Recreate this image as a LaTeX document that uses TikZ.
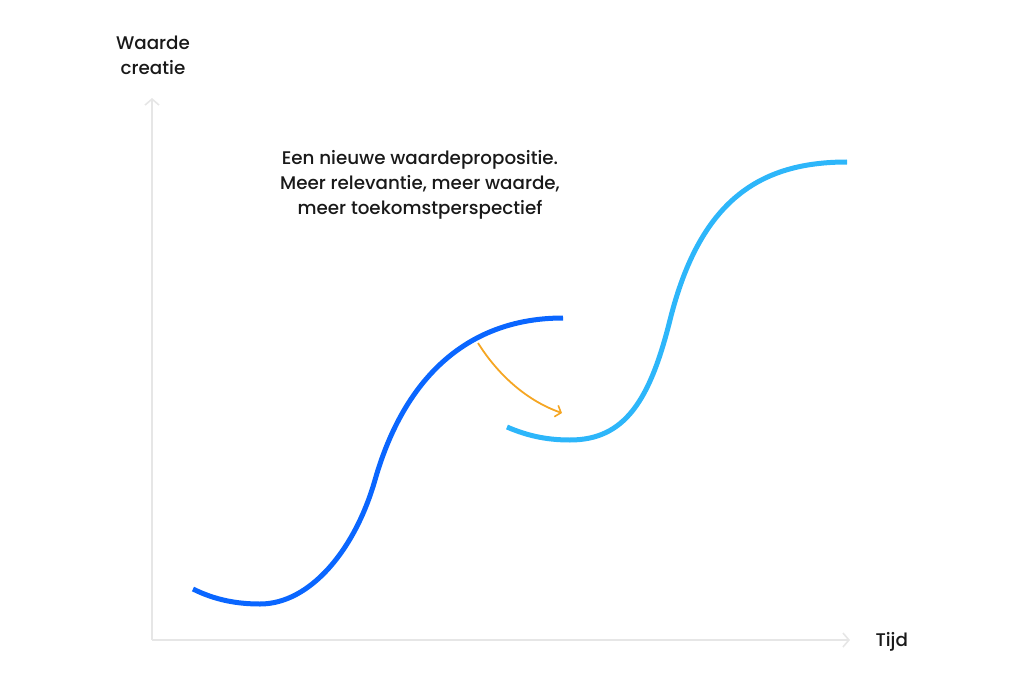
\documentclass[tikz,border=0pt]{standalone}
\usepackage{fontspec}
\setmainfont{Poppins}[UprightFont={* Medium}]
\usetikzlibrary{arrows.meta}

\definecolor{axisgray}{HTML}{E6E6E6}
\definecolor{curveblue}{HTML}{0A66FF}
\definecolor{curvesky}{HTML}{2DB6FA}
\definecolor{shiftorange}{HTML}{F5A623}

\tikzset{
  axis/.style={draw=axisgray, line width=2pt, -{Straight Barb[length=6pt,width=14pt,line width=1.6pt]}},
  scurve/.style={line width=5pt},
  label/.style={font=\fontsize{18.3}{25}\selectfont, text=black!90, align=center}
}

\begin{document}
\begin{tikzpicture}[x=1pt, y=-1pt]
  \useasboundingbox (0,0) rectangle (1024,687);

  % axes
  \coordinate (origin) at (152,640);
  \coordinate (ytop) at (152,98);
  \coordinate (xend) at (850,640);
  \draw[axis] (origin) -- (ytop);
  \draw[axis] (origin) -- (xend);
  \node[label] (ylab) at (153,55) {Waarde\\creatie};
  \node[label, anchor=west] (xlab) at (872,642) {Tijd};

  % current S-curve
  \draw[scurve, curveblue] (193,589) .. controls (215,600) and (237,604) .. (260,604)
    .. controls (310,604) and (355,550) .. (375,480)
    .. controls (405,375) and (470,318) .. (563,318);

  % new S-curve
  \draw[scurve, curvesky] (507,427) .. controls (530,437) and (550,440) .. (570,440)
    .. controls (625,440) and (650,400) .. (670,320)
    .. controls (700,200) and (760,162) .. (847,162);

  % jump to the new curve
  \coordinate (jumpfrom) at (478,343);
  \coordinate (jumpto) at (562,413);
  \draw[shiftorange, line width=1.8pt, -{Straight Barb[length=5pt,width=12pt,line width=1.6pt]}]
    (jumpfrom) .. controls (500,378) and (530,402) .. (jumpto);

  \node[label] (msg) at (420,185) {Een nieuwe waardepropositie.\\Meer relevantie, meer waarde,\\meer toekomstperspectief};
\end{tikzpicture}
\end{document}
